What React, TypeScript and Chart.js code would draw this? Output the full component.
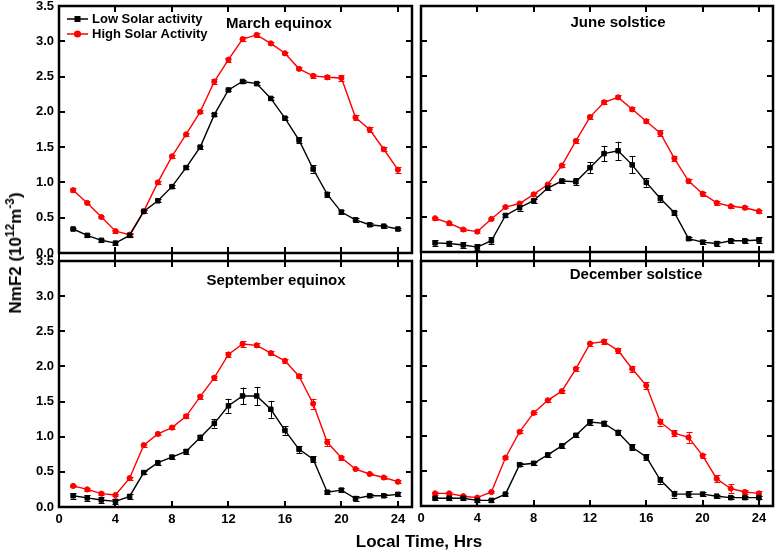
import React, { useEffect, useRef } from "react";
import { Chart, registerables } from "chart.js";

Chart.register(...registerables);

const HOURS = [1, 2, 3, 4, 5, 6, 7, 8, 9, 10, 11, 12, 13, 14, 15, 16, 17, 18, 19, 20, 21, 22, 23, 24];
const X_TICKS = [0, 4, 8, 12, 16, 20, 24];
const Y_TICKS = [0, 0.5, 1, 1.5, 2, 2.5, 3, 3.5];
const SERIES_NAMES = ["Low Solar activity", "High Solar Activity"];
const PANEL_TITLES = ["March equinox", "June solstice", "September equinox", "December solstice"];
const X_TITLE = "Local Time, Hrs";

const MARCH_LOW = [0.34, 0.25, 0.18, 0.14, 0.25, 0.59, 0.74, 0.94, 1.21, 1.5, 1.96, 2.31, 2.43, 2.4, 2.19, 1.91, 1.6, 1.19, 0.83, 0.58, 0.47, 0.4, 0.38, 0.34];
const MARCH_LOW_ERR = [0.02, 0.02, 0.02, 0.02, 0.02, 0.02, 0.02, 0.02, 0.02, 0.02, 0.02, 0.02, 0.02, 0.02, 0.02, 0.02, 0.04, 0.05, 0.04, 0.03, 0.03, 0.02, 0.02, 0.02];
const MARCH_HIGH = [0.89, 0.71, 0.51, 0.31, 0.26, 0.59, 1.0, 1.37, 1.68, 2.0, 2.43, 2.74, 3.03, 3.09, 2.97, 2.83, 2.61, 2.51, 2.49, 2.48, 1.92, 1.75, 1.47, 1.18];
const MARCH_HIGH_ERR = [0.03, 0.02, 0.02, 0.02, 0.02, 0.02, 0.02, 0.02, 0.02, 0.02, 0.03, 0.03, 0.03, 0.03, 0.02, 0.02, 0.02, 0.03, 0.03, 0.04, 0.03, 0.03, 0.03, 0.04];

const JUNE_LOW = [0.13, 0.12, 0.1, 0.07, 0.16, 0.52, 0.63, 0.73, 0.91, 1.01, 1.0, 1.2, 1.4, 1.44, 1.24, 0.99, 0.76, 0.56, 0.19, 0.14, 0.12, 0.16, 0.16, 0.17];
const JUNE_LOW_ERR = [0.04, 0.04, 0.04, 0.04, 0.05, 0.02, 0.04, 0.03, 0.03, 0.03, 0.05, 0.08, 0.11, 0.13, 0.12, 0.06, 0.05, 0.03, 0.02, 0.03, 0.03, 0.03, 0.03, 0.04];
const JUNE_HIGH = [0.48, 0.41, 0.32, 0.29, 0.47, 0.64, 0.69, 0.82, 0.96, 1.23, 1.58, 1.92, 2.13, 2.2, 2.03, 1.86, 1.69, 1.33, 1.01, 0.83, 0.7, 0.65, 0.63, 0.58];
const JUNE_HIGH_ERR = [0.02, 0.02, 0.02, 0.02, 0.02, 0.02, 0.02, 0.02, 0.02, 0.02, 0.03, 0.03, 0.03, 0.03, 0.03, 0.03, 0.04, 0.03, 0.03, 0.03, 0.03, 0.02, 0.02, 0.02];

const SEPT_LOW = [0.16, 0.13, 0.1, 0.08, 0.15, 0.49, 0.63, 0.71, 0.79, 0.99, 1.19, 1.44, 1.58, 1.58, 1.39, 1.09, 0.82, 0.68, 0.21, 0.24, 0.12, 0.16, 0.16, 0.18];
const SEPT_LOW_ERR = [0.04, 0.04, 0.04, 0.04, 0.04, 0.02, 0.03, 0.03, 0.03, 0.04, 0.06, 0.1, 0.12, 0.13, 0.12, 0.06, 0.05, 0.04, 0.03, 0.03, 0.03, 0.02, 0.02, 0.03];
const SEPT_HIGH = [0.3, 0.25, 0.19, 0.17, 0.41, 0.88, 1.04, 1.13, 1.29, 1.57, 1.84, 2.17, 2.32, 2.3, 2.19, 2.08, 1.86, 1.47, 0.92, 0.7, 0.54, 0.47, 0.42, 0.36];
const SEPT_HIGH_ERR = [0.02, 0.02, 0.02, 0.02, 0.02, 0.02, 0.02, 0.02, 0.03, 0.03, 0.03, 0.03, 0.04, 0.03, 0.03, 0.03, 0.03, 0.07, 0.05, 0.03, 0.02, 0.02, 0.02, 0.02];

const DEC_LOW = [0.11, 0.11, 0.11, 0.08, 0.08, 0.17, 0.59, 0.61, 0.73, 0.86, 1.01, 1.2, 1.18, 1.05, 0.84, 0.7, 0.37, 0.17, 0.17, 0.17, 0.14, 0.12, 0.12, 0.12];
const DEC_LOW_ERR = [0.02, 0.02, 0.02, 0.02, 0.02, 0.02, 0.02, 0.02, 0.03, 0.03, 0.03, 0.04, 0.04, 0.04, 0.04, 0.04, 0.05, 0.05, 0.04, 0.03, 0.02, 0.02, 0.02, 0.02];
const DEC_HIGH = [0.18, 0.18, 0.14, 0.12, 0.2, 0.69, 1.06, 1.33, 1.51, 1.64, 1.96, 2.32, 2.35, 2.22, 1.96, 1.72, 1.2, 1.04, 0.98, 0.72, 0.39, 0.25, 0.2, 0.18];
const DEC_HIGH_ERR = [0.02, 0.02, 0.02, 0.02, 0.02, 0.02, 0.02, 0.02, 0.02, 0.02, 0.03, 0.03, 0.03, 0.04, 0.04, 0.05, 0.05, 0.04, 0.08, 0.03, 0.05, 0.06, 0.03, 0.03];

const W = 778;
const H = 553;
const FONT = "'Liberation Sans', Arial, Helvetica, sans-serif";
const LOW_COLOR = "#000000";
const HIGH_COLOR = "#ff0000";

type Area = { left: number; top: number; right: number; bottom: number };
type Panel = {
  title: string;
  low: number[];
  lowErr: number[];
  high: number[];
  highErr: number[];
  area: Area;
  yLabels: boolean;
  xLabels: boolean;
  legend: boolean;
  titleX: number;
  titleY: number;
  bottomOut: number;
};

const PANELS: Panel[] = [
  { title: PANEL_TITLES[0], low: MARCH_LOW, lowErr: MARCH_LOW_ERR, high: MARCH_HIGH, highErr: MARCH_HIGH_ERR,
    area: { left: 59, top: 6, right: 412, bottom: 253 }, yLabels: true, xLabels: false, legend: true, titleX: 279, titleY: 24, bottomOut: 8 },
  { title: PANEL_TITLES[1], low: JUNE_LOW, lowErr: JUNE_LOW_ERR, high: JUNE_HIGH, highErr: JUNE_HIGH_ERR,
    area: { left: 421, top: 6, right: 774, bottom: 252 }, yLabels: false, xLabels: false, legend: false, titleX: 618, titleY: 23, bottomOut: 8 },
  { title: PANEL_TITLES[2], low: SEPT_LOW, lowErr: SEPT_LOW_ERR, high: SEPT_HIGH, highErr: SEPT_HIGH_ERR,
    area: { left: 59, top: 261, right: 412, bottom: 507 }, yLabels: true, xLabels: true, legend: false, titleX: 276, titleY: 281, bottomOut: 0 },
  { title: PANEL_TITLES[3], low: DEC_LOW, lowErr: DEC_LOW_ERR, high: DEC_HIGH, highErr: DEC_HIGH_ERR,
    area: { left: 421, top: 261, right: 774, bottom: 506 }, yLabels: false, xLabels: true, legend: false, titleX: 636, titleY: 275, bottomOut: 0 },
];

function makePlugin(panel: Panel) {
  return {
    id: "panelFrame",
    beforeDatasetsDraw(chart: any) {
      const ctx = chart.ctx;
      const xs = chart.scales.x;
      const ys = chart.scales.y;
      ctx.save();
      chart.data.datasets.forEach((ds: any) => {
        ctx.strokeStyle = ds.borderColor;
        ctx.lineWidth = 1;
        ds.data.forEach((p: any, i: number) => {
          const e = ds.errors[i];
          const px = Math.round(xs.getPixelForValue(p.x)) + 0.5;
          const y1 = ys.getPixelForValue(p.y + e);
          const y2 = ys.getPixelForValue(p.y - e);
          ctx.beginPath();
          ctx.moveTo(px, y1);
          ctx.lineTo(px, y2);
          ctx.moveTo(px - 3, Math.round(y1) + 0.5);
          ctx.lineTo(px + 3, Math.round(y1) + 0.5);
          ctx.moveTo(px - 3, Math.round(y2) + 0.5);
          ctx.lineTo(px + 3, Math.round(y2) + 0.5);
          ctx.stroke();
        });
      });
      ctx.restore();
    },
    afterDraw(chart: any) {
      const ctx = chart.ctx;
      const ca = chart.chartArea;
      const xs = chart.scales.x;
      const ys = chart.scales.y;
      ctx.save();
      // ticks
      ctx.strokeStyle = "#000";
      ctx.lineWidth = 2;
      ctx.beginPath();
      X_TICKS.forEach((v) => {
        const px = Math.round(xs.getPixelForValue(v));
        ctx.moveTo(px, ca.top);
        ctx.lineTo(px, ca.top + 6);
        ctx.moveTo(px, ca.bottom + panel.bottomOut);
        ctx.lineTo(px, ca.bottom - 6);
      });
      Y_TICKS.forEach((v) => {
        const py = Math.round(ys.getPixelForValue(v));
        ctx.moveTo(ca.left, py);
        ctx.lineTo(ca.left + 6, py);
        ctx.moveTo(ca.right, py);
        ctx.lineTo(ca.right - 6, py);
      });
      ctx.stroke();
      // frame
      ctx.lineWidth = 2.5;
      ctx.strokeRect(ca.left, ca.top, ca.right - ca.left, ca.bottom - ca.top);
      // title
      ctx.fillStyle = "#000";
      ctx.font = `bold 15px ${FONT}`;
      ctx.textAlign = "center";
      ctx.textBaseline = "middle";
      ctx.fillText(panel.title, panel.titleX, panel.titleY);
      // legend
      if (panel.legend) {
        ctx.font = `bold 13px ${FONT}`;
        ctx.textAlign = "left";
        const rows = [
          { name: SERIES_NAMES[0], color: LOW_COLOR, style: "rect" },
          { name: SERIES_NAMES[1], color: HIGH_COLOR, style: "circle" },
        ];
        rows.forEach((r, i) => {
          const y = ca.top + 13 + i * 15;
          const x0 = ca.left + 8;
          ctx.strokeStyle = r.color;
          ctx.fillStyle = r.color;
          ctx.lineWidth = 1.5;
          ctx.beginPath();
          ctx.moveTo(x0, y);
          ctx.lineTo(x0 + 21, y);
          ctx.stroke();
          ctx.beginPath();
          if (r.style === "rect") {
            ctx.rect(x0 + 7.5, y - 3, 6, 6);
          } else {
            ctx.arc(x0 + 10.5, y, 3.6, 0, Math.PI * 2);
          }
          ctx.fill();
          ctx.fillStyle = "#000";
          ctx.fillText(r.name, x0 + 25, y + 0.5);
        });
      }
      ctx.restore();
    },
  };
}

function buildChart(canvas: HTMLCanvasElement, panel: Panel) {
  const a = panel.area;
  const tickFont = { family: FONT, size: 13, weight: "bold" as const };
  return new Chart(canvas, {
    type: "line",
    data: {
      datasets: [
        {
          label: SERIES_NAMES[0],
          data: HOURS.map((h, i) => ({ x: h, y: panel.low[i] })),
          errors: panel.lowErr,
          borderColor: LOW_COLOR,
          backgroundColor: LOW_COLOR,
          pointBackgroundColor: LOW_COLOR,
          pointBorderColor: LOW_COLOR,
          pointStyle: "rect",
          pointRadius: 3.2,
          pointBorderWidth: 1,
          borderWidth: 1.4,
          tension: 0,
        } as any,
        {
          label: SERIES_NAMES[1],
          data: HOURS.map((h, i) => ({ x: h, y: panel.high[i] })),
          errors: panel.highErr,
          borderColor: HIGH_COLOR,
          backgroundColor: HIGH_COLOR,
          pointBackgroundColor: HIGH_COLOR,
          pointBorderColor: HIGH_COLOR,
          pointStyle: "circle",
          pointRadius: 2.6,
          pointBorderWidth: 1,
          borderWidth: 1.4,
          tension: 0,
        } as any,
      ],
    },
    options: {
      responsive: false,
      animation: false,
      devicePixelRatio: 1,
      events: [],
      layout: { padding: { left: 0, top: a.top, right: W - a.right, bottom: 0 } },
      plugins: {
        legend: { display: false },
        tooltip: { enabled: false },
        title: { display: false },
      },
      scales: {
        x: {
          type: "linear",
          min: 0,
          max: 25,
          afterFit: (s: any) => {
            s.height = H - a.bottom;
            s.paddingLeft = 0;
            s.paddingRight = 0;
            s.paddingTop = 0;
            s.paddingBottom = 0;
          },
          afterBuildTicks: (s: any) => {
            s.ticks = X_TICKS.map((v) => ({ value: v }));
          },
          grid: { display: false, drawTicks: false },
          border: { display: false },
          ticks: {
            display: panel.xLabels,
            padding: 5,
            color: "#000",
            font: tickFont,
            maxRotation: 0,
            autoSkip: false,
          },
        },
        y: {
          type: "linear",
          min: 0,
          max: 3.5,
          afterFit: (s: any) => {
            s.width = a.left;
            s.paddingLeft = 0;
            s.paddingRight = 0;
            s.paddingTop = 0;
            s.paddingBottom = 0;
          },
          afterBuildTicks: (s: any) => {
            s.ticks = Y_TICKS.map((v) => ({ value: v }));
          },
          grid: { display: false, drawTicks: false },
          border: { display: false },
          ticks: {
            display: panel.yLabels,
            padding: 5,
            color: "#000",
            font: tickFont,
            autoSkip: false,
            callback: (v: any) => Number(v).toFixed(1),
          },
        },
      },
    },
    plugins: [makePlugin(panel)],
  } as any);
}

export default function App() {
  const refs = useRef<(HTMLCanvasElement | null)[]>([]);

  useEffect(() => {
    document.body.style.margin = "0";
    document.body.style.background = "#fff";
    const charts = PANELS.map((p, i) => buildChart(refs.current[i] as HTMLCanvasElement, p));
    return () => {
      charts.forEach((c) => c.destroy());
    };
  }, []);

  return (
    <div style={{ position: "relative", width: W, height: H, background: "#fff", overflow: "hidden" }}>
      {PANELS.map((p, i) => (
        <canvas
          key={i}
          ref={(el) => {
            refs.current[i] = el;
          }}
          width={W}
          height={H}
          style={{ position: "absolute", left: 0, top: 0, width: W, height: H }}
        />
      ))}
      <div
        style={{
          position: "absolute",
          left: 16,
          top: 253,
          transform: "translate(-50%, -50%) rotate(-90deg)",
          font: `bold 17px ${FONT}`,
          whiteSpace: "nowrap",
          color: "#000",
          lineHeight: "20px",
        }}
      >
        NmF2 (10<sup style={{ fontSize: "0.7em", lineHeight: 0 }}>12</sup>m<sup style={{ fontSize: "0.7em", lineHeight: 0 }}>-3</sup>)
      </div>
      <div
        style={{
          position: "absolute",
          left: 419,
          top: 542,
          transform: "translate(-50%, -50%)",
          font: `bold 17px ${FONT}`,
          whiteSpace: "nowrap",
          color: "#000",
        }}
      >
        {X_TITLE}
      </div>
    </div>
  );
}
